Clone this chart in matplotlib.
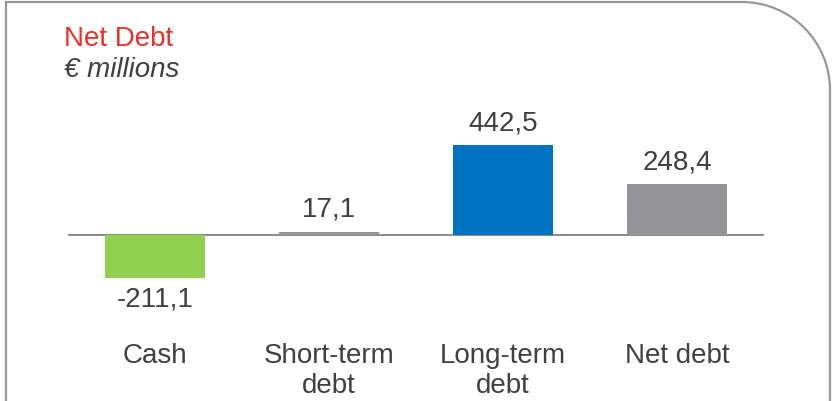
import matplotlib
matplotlib.use('Agg')
import matplotlib.pyplot as plt
from matplotlib.path import Path
from matplotlib.patches import PathPatch

categories = ['Cash', 'Short-term\ndebt', 'Long-term\ndebt', 'Net debt']
values = [-211.1, 17.1, 442.5, 248.4]
value_labels = ['-211,1', '17,1', '442,5', '248,4']
bar_colors = ['#92d050', '#939398', '#0070c0', '#939398']

plt.rcParams['font.family'] = ['Liberation Sans', 'DejaVu Sans']

W, H = 832, 402
TEXT = '#404040'
GRAY = '#8e8e93'

fig = plt.figure(figsize=(W / 100, H / 100), dpi=100)

# panel outline: square left side, rounded top-right corner, open bottom
frame = fig.add_axes([0, 0, 1, 1], zorder=-1)
frame.set_xlim(0, W)
frame.set_ylim(H, 0)
frame.axis('off')
r = 88
k = 0.5523 * r
left, top, right = 6, 3, 830
verts = [(left, H + 5), (left, top), (right - r, top),
         (right - r + k, top), (right, top + r - k), (right, top + r),
         (right, H + 5)]
codes = [Path.MOVETO, Path.LINETO, Path.LINETO,
         Path.CURVE4, Path.CURVE4, Path.CURVE4, Path.LINETO]
frame.add_patch(PathPatch(Path(verts, codes), fill=False, ec='#98989c',
                          lw=1.6, clip_on=False))

fig.text(64 / W, 1 - 46 / H, 'Net Debt', color='#e8322b', fontsize=20,
         va='baseline', ha='left')
fig.text(64 / W, 1 - 77 / H, '€ millions', color=TEXT, fontsize=20,
         style='italic', va='baseline', ha='left')

ax = fig.add_axes([68 / W, 1 - 300 / H, 696 / W, 200 / H])
x = list(range(len(values)))
ax.bar(x, values, width=0.57, color=bar_colors, zorder=2)
ax.axhline(0, color=GRAY, lw=1.5, zorder=1)
ax.set_xlim(-0.5, 3.5)
ax.set_ylim(-315, 669)

for i, (v, lab) in enumerate(zip(values, value_labels)):
    off = 11.5 if v >= 0 else -20
    ax.annotate(lab, (i, v), xytext=(0, off), textcoords='offset points',
                ha='center', va='baseline', fontsize=20, color=TEXT)

ax.set_xticks(x)
ax.set_xticklabels(categories, fontsize=20, color=TEXT, linespacing=1.18)
ax.tick_params(axis='x', length=0, pad=31)
ax.set_yticks([])
for s in ax.spines.values():
    s.set_visible(False)
ax.patch.set_alpha(0)

fig.savefig('out.png', dpi=100)
